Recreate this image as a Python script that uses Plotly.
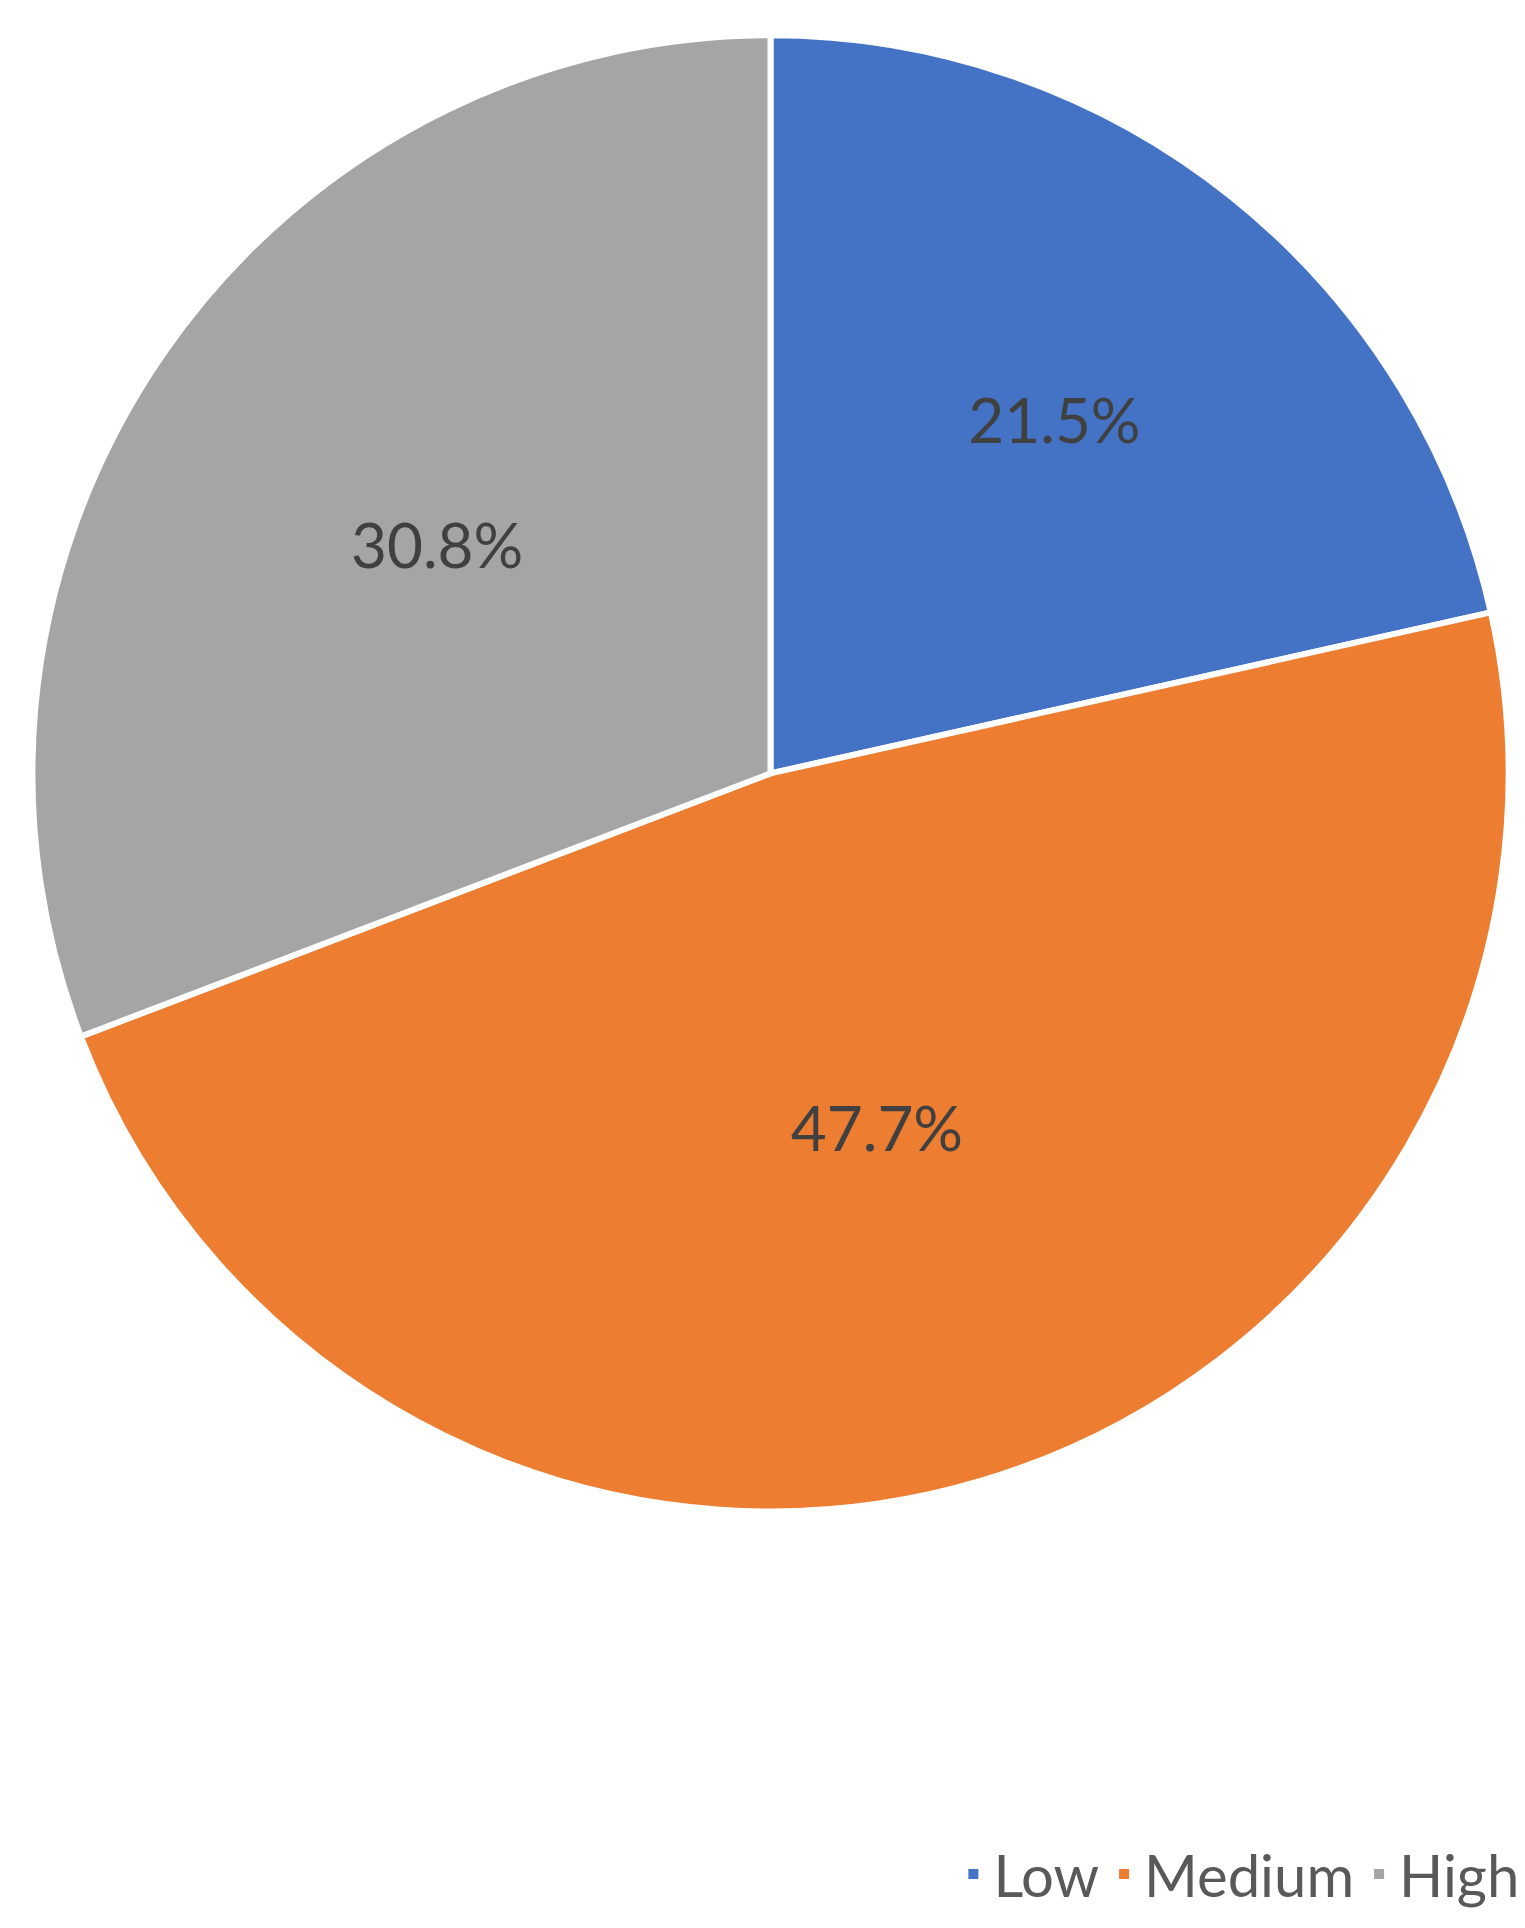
import plotly.graph_objects as go

labels = ["Low", "Medium", "High"]
values = [21.5, 47.7, 30.8]
colors = ["#4472C4", "#ED7D31", "#A5A5A5"]

fig = go.Figure(go.Pie(
    labels=labels, values=values, sort=False, direction="clockwise", rotation=0,
    marker=dict(colors=colors, line=dict(color="white", width=6)),
    texttemplate="%{percent:.1%}", textposition="inside", insidetextorientation="horizontal",
    textfont=dict(size=62, color="#404040", family="Lato"),
    domain=dict(x=[0.016, 0.984], y=[0.22, 0.986]),
))
fig.update_layout(
    width=1525, height=1928, margin=dict(l=0, r=0, t=0, b=0),
    paper_bgcolor="white", font=dict(family="Lato", color="#595959"),
    legend=dict(orientation="h", x=0.995, xanchor="right", y=0.032, yanchor="middle",
                font=dict(size=58, color="#595959"), itemsizing="constant"),
)
fig.write_html("out.html")
